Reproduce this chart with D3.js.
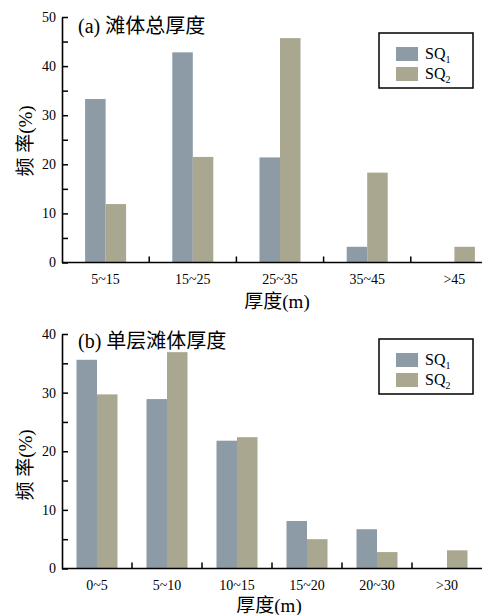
<!DOCTYPE html>
<html>
<head>
<meta charset="utf-8">
<script src="https://cdn.jsdelivr.net/npm/d3@7/dist/d3.min.js"></script>
<style>
  body { margin: 0; background: #fff; }
  svg { display: block; font-family: "Liberation Serif", "Noto Sans CJK SC", serif; }
</style>
</head>
<body>
<svg id="chart" width="482" height="615"></svg>
<script>
// panel (a) 滩体总厚度
const catsA = ['5~15', '15~25', '25~35', '35~45', '>45'];
const sq1A = [33.3, 42.8, 21.4, 3.2, 0];
const sq2A = [11.9, 21.5, 45.7, 18.3, 3.2];
const ticksA = [0, 10, 20, 30, 40, 50];

// panel (b) 单层滩体厚度
const catsB = ['0~5', '5~10', '10~15', '15~20', '20~30', '>30'];
const sq1B = [35.6, 28.9, 21.8, 8.1, 6.7, 0];
const sq2B = [29.7, 36.9, 22.4, 5.0, 2.8, 3.1];
const ticksB = [0, 10, 20, 30, 40];

const seriesNames = ['SQ', 'SQ'];
const seriesSubs = ['1', '2'];
const colors = ['#8c9ba6', '#a9a78f'];

const svg = d3.select('#chart');

function drawPanel(opt) {
  const g = svg.append('g');
  const x = d3.scaleBand().domain(opt.cats).range([opt.x0, opt.x1]);
  const y = d3.scaleLinear().domain([0, opt.ymax]).range([opt.y0, opt.y1]);
  const barW = 20.5;

  // bars
  opt.series.forEach((vals, si) => {
    g.selectAll('rect.s' + si)
      .data(vals.map((v, i) => ({ c: opt.cats[i], v: v })))
      .enter()
      .append('rect')
      .attr('x', d => x(d.c) + x.bandwidth() / 2 - barW + si * barW)
      .attr('y', d => y(d.v))
      .attr('width', barW)
      .attr('height', d => opt.y0 - y(d.v))
      .attr('fill', colors[si]);
  });

  // y axis (inward ticks, minor ticks at halves)
  const minor = d3.range(5, opt.ymax, 10);
  g.append('g')
    .attr('transform', `translate(${opt.x0},0)`)
    .call(d3.axisRight(y).tickValues(minor).tickSize(6).tickFormat(''))
    .call(a => a.select('.domain').remove())
    .selectAll('line').attr('stroke', '#000').attr('stroke-width', 1.5);
  const ya = g.append('g')
    .attr('transform', `translate(${opt.x0},0)`)
    .call(d3.axisRight(y).tickValues(opt.ticks).tickSize(6).tickSizeOuter(0));
  ya.select('.domain').attr('stroke', '#000').attr('stroke-width', 1.6);
  ya.selectAll('line').attr('stroke', '#000').attr('stroke-width', 1.5);
  ya.selectAll('text')
    .attr('x', -6)
    .attr('text-anchor', 'end')
    .attr('font-size', 14)
    .attr('font-family', '"Liberation Serif", serif');

  // x axis: ticks between categories, pointing up
  const bounds = opt.cats.slice(1).map(c => x(c));
  const xa = g.append('g').attr('transform', `translate(0,${opt.y0})`);
  xa.append('line')
    .attr('x1', opt.x0).attr('x2', opt.x1 + 20)
    .attr('stroke', '#000').attr('stroke-width', 1.6);
  xa.selectAll('line.tk').data(bounds).enter().append('line')
    .attr('class', 'tk')
    .attr('x1', d => d).attr('x2', d => d)
    .attr('y1', 0).attr('y2', -6)
    .attr('stroke', '#000').attr('stroke-width', 1.5);
  xa.selectAll('text').data(opt.cats).enter().append('text')
    .attr('x', d => x(d) + x.bandwidth() / 2)
    .attr('y', 21)
    .attr('text-anchor', 'middle')
    .attr('font-size', 14)
    .text(d => d);

  // axis titles
  g.append('text')
    .attr('x', (opt.x0 + opt.x1) / 2 - 3)
    .attr('y', opt.y0 + opt.xlabelDy)
    .attr('text-anchor', 'middle')
    .attr('font-size', 19)
    .text('厚度(m)');
  g.append('text')
    .attr('transform', `translate(32,${opt.ylabelY}) rotate(-90)`)
    .attr('text-anchor', 'middle')
    .attr('font-size', 19)
    .text('频 率(%)');

  // panel title
  g.append('text')
    .attr('x', 78)
    .attr('y', opt.titleY)
    .attr('font-size', 20)
    .text(opt.title);

  // legend
  const lg = g.append('g').attr('transform', `translate(379,${opt.legY})`);
  lg.append('rect')
    .attr('width', 94).attr('height', 55)
    .attr('fill', '#fff').attr('stroke', '#000').attr('stroke-width', 1.5);
  seriesNames.forEach((n, i) => {
    lg.append('rect')
      .attr('x', 17).attr('y', 14 + i * 20)
      .attr('width', 22).attr('height', 14)
      .attr('fill', colors[i]);
    const t = lg.append('text')
      .attr('x', 46).attr('y', 26 + i * 20)
      .attr('font-size', 16);
    t.append('tspan').text(n);
    t.append('tspan').attr('font-size', 10).attr('dy', 4).text(seriesSubs[i]);
  });
}

drawPanel({
  cats: catsA, series: [sq1A, sq2A], ticks: ticksA, ymax: 50,
  x0: 62, x1: 498, y0: 262.5, y1: 17,
  title: '(a) 滩体总厚度', titleY: 33, legY: 33, ylabelY: 141, xlabelDy: 45
});

drawPanel({
  cats: catsB, series: [sq1B, sq2B], ticks: ticksB, ymax: 40,
  x0: 62, x1: 482, y0: 568.5, y1: 334,
  title: '(b) 单层滩体厚度', titleY: 348, legY: 339, ylabelY: 465, xlabelDy: 43
});
</script>
</body>
</html>
